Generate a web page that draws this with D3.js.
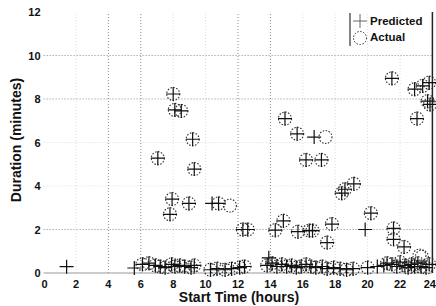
<!DOCTYPE html>
<html lang="en">
  <head>
    <meta charset="utf-8">
    <title>Predicted vs actual duration</title>
  </head>
  <style>
    body { margin: 0; background: white; }
    text { font-family: "Liberation Sans", Arial, sans-serif; font-weight: bold; }
  </style>
  <body>
    <div id="chart-area"></div>
    <script src="https://cdn.jsdelivr.net/npm/d3@7"></script>
    <script>
      // start time (hours) / duration (minutes)
      const actualTime = [8.0, 8.1, 8.5, 9.2, 7.05, 9.3, 7.93, 8.97, 7.8, 10.8, 11.5, 12.3, 12.6,
        14.3, 14.9, 14.8, 15.65, 16.2, 17.15, 17.4, 18.4, 18.6, 19.15, 20.2, 17.8, 17.5, 15.7, 16.4, 16.6,
        21.6, 21.6, 22.25, 21.5, 22.9, 23.4, 23.8, 23.7, 23.85, 23.05, 23.2, 23.35,
        6.1, 6.5, 6.9, 7.2, 7.5, 7.9, 8.1, 8.4, 8.7, 9.1, 9.3, 10.3, 10.7, 11.2, 11.6, 12.1, 12.4,
        13.8, 14.1, 14.4, 14.7, 15.0, 15.3, 15.6, 15.9, 16.2, 16.5, 16.8, 17.2, 17.5, 17.9, 18.3, 18.7,
        19.1, 20.0, 21.2, 21.5, 21.8, 22.0, 22.3, 22.5, 22.7, 22.9, 23.1, 23.3, 23.6, 23.8];
      const actualDur = [8.23, 7.5, 7.45, 6.15, 5.28, 4.78, 3.4, 3.2, 2.7, 3.2, 3.1, 2.0, 2.0,
        1.97, 7.1, 2.4, 6.4, 5.2, 5.2, 6.25, 3.67, 3.85, 4.1, 2.75, 2.25, 1.4, 1.9, 1.95, 1.95,
        2.05, 1.55, 1.2, 8.95, 8.45, 8.6, 8.75, 7.9, 7.75, 7.1, 0.8, 0.75,
        0.40, 0.45, 0.35, 0.30, 0.25, 0.40, 0.30, 0.35, 0.30, 0.25, 0.35, 0.15, 0.20, 0.15, 0.20, 0.25, 0.30,
        0.35, 0.45, 0.30, 0.40, 0.30, 0.35, 0.25, 0.30, 0.40, 0.30, 0.25, 0.30, 0.20, 0.25, 0.20, 0.15,
        0.20, 0.25, 0.45, 0.40, 0.30, 0.50, 0.35, 0.25, 0.40, 0.30, 0.45, 0.30, 0.25, 0.40];
      const predTime = [8.0, 8.1, 8.5, 9.2, 7.05, 9.3, 7.93, 8.97, 7.8, 10.4, 10.8, 12.3, 12.6,
        14.3, 14.9, 14.8, 15.65, 16.2, 17.15, 16.7, 18.4, 18.6, 19.15, 20.2, 17.8, 17.5, 15.7, 16.4, 16.6,
        21.6, 21.6, 22.25, 21.5, 22.9, 23.4, 23.8, 23.7, 23.85, 23.05, 19.85, 1.42, 5.6, 13.9, 20.6, 21.0,
        6.1, 6.5, 6.9, 7.2, 7.5, 7.9, 8.1, 8.4, 8.7, 9.1, 9.3, 10.3, 10.7, 11.2, 11.6, 12.1, 12.4,
        13.8, 14.1, 14.4, 14.7, 15.0, 15.3, 15.6, 15.9, 16.2, 16.5, 16.8, 17.2, 17.5, 17.9, 18.3, 18.7,
        19.1, 20.0, 21.2, 21.5, 21.8, 22.0, 22.3, 22.5, 22.7, 22.9, 23.1, 23.3, 23.6, 23.8];
      const predDur = [8.23, 7.5, 7.45, 6.15, 5.28, 4.78, 3.4, 3.2, 2.7, 3.2, 3.2, 2.0, 2.0,
        1.97, 7.1, 2.4, 6.4, 5.2, 5.2, 6.25, 3.67, 3.85, 4.1, 2.75, 2.25, 1.4, 1.9, 1.95, 1.95,
        2.05, 1.55, 1.2, 8.95, 8.45, 8.6, 8.75, 7.9, 7.75, 7.1, 2.0, 0.29, 0.23, 0.7, 0.3, 0.35,
        0.40, 0.45, 0.35, 0.30, 0.25, 0.40, 0.30, 0.35, 0.30, 0.25, 0.35, 0.15, 0.20, 0.15, 0.20, 0.25, 0.30,
        0.35, 0.45, 0.30, 0.40, 0.30, 0.35, 0.25, 0.30, 0.40, 0.30, 0.25, 0.30, 0.20, 0.25, 0.20, 0.15,
        0.20, 0.25, 0.45, 0.40, 0.30, 0.50, 0.35, 0.25, 0.40, 0.30, 0.45, 0.30, 0.25, 0.40];
      const xTicks = [0, 2, 4, 6, 8, 10, 12, 14, 16, 18, 20, 22, 24];
      const yTicks = [0, 2, 4, 6, 8, 10, 12];
      const darkGridX = [4, 6, 12, 14];
      const darkGridY = [2, 8, 10];
      const legendLabels = ['Predicted', 'Actual'];

      const svg_width = 436;
      const svg_height = 306;
      const margin = {left: 43.6, right: 3.6, top: 12, bottom: 33};

      const x_scale = d3.scaleLinear()
        .domain([0, 24])
        .range([margin.left, svg_width - margin.right]);
      const y_scale = d3.scaleLinear()
        .domain([0, 12])
        .range([svg_height - margin.bottom, margin.top]);

      const svg = d3.select('#chart-area')
        .append('svg')
        .attr('width', svg_width)
        .attr('height', svg_height);

      //dotted grid
      svg.selectAll('.gx')
        .data(xTicks.slice(1, -1))
        .enter()
        .append('line')
        .attr('x1', d => x_scale(d))
        .attr('x2', d => x_scale(d))
        .attr('y1', y_scale(0))
        .attr('y2', y_scale(12))
        .attr('stroke', d => darkGridX.includes(d) ? '#8a8a8a' : '#dcdcdc')
        .attr('stroke-dasharray', '1,2');
      svg.selectAll('.gy')
        .data(yTicks.slice(1, -1))
        .enter()
        .append('line')
        .attr('x1', x_scale(0))
        .attr('x2', x_scale(24))
        .attr('y1', d => y_scale(d))
        .attr('y2', d => y_scale(d))
        .attr('stroke', d => darkGridY.includes(d) ? '#8a8a8a' : '#dcdcdc')
        .attr('stroke-dasharray', '1,2');

      //axes: gray bottom line, dark right edge
      svg.append('line')
        .attr('x1', x_scale(0)).attr('x2', x_scale(24))
        .attr('y1', y_scale(0)).attr('y2', y_scale(0))
        .attr('stroke', '#999').attr('stroke-width', 1.2);
      svg.append('line')
        .attr('x1', x_scale(24)).attr('x2', x_scale(24))
        .attr('y1', y_scale(0)).attr('y2', y_scale(12))
        .attr('stroke', '#222').attr('stroke-width', 1.5);

      svg.selectAll('.xl')
        .data(xTicks)
        .enter()
        .append('text')
        .attr('x', d => d === 24 ? svg_width : x_scale(d) + (d === 0 ? 1 : 0))
        .attr('y', y_scale(0) + 15)
        .attr('text-anchor', d => d === 24 ? 'end' : 'middle')
        .attr('font-size', '11px')
        .attr('fill', '#111')
        .text(d => d);
      svg.selectAll('.yl')
        .data(yTicks)
        .enter()
        .append('text')
        .attr('x', margin.left - 3)
        .attr('y', d => y_scale(d) + 4)
        .attr('text-anchor', 'end')
        .attr('font-size', '11px')
        .attr('fill', '#111')
        .text(d => d);

      svg.append('text')
        .attr('x', 239)
        .attr('y', 302)
        .attr('text-anchor', 'middle')
        .attr('font-size', '14px')
        .attr('fill', '#111')
        .text('Start Time (hours)');
      svg.append('text')
        .attr('transform', 'translate(21,140) rotate(-90)')
        .attr('text-anchor', 'middle')
        .attr('font-size', '14px')
        .attr('fill', '#111')
        .text('Duration (minutes)');

      //markers
      const actual = d3.zip(actualTime, actualDur);
      const predicted = d3.zip(predTime, predDur);

      svg.selectAll('.act')
        .data(actual)
        .enter()
        .append('circle')
        .attr('cx', d => x_scale(d[0]))
        .attr('cy', d => y_scale(d[1]))
        .attr('r', 6.5)
        .attr('fill', 'none')
        .attr('stroke', '#333')
        .attr('stroke-width', 1.1)
        .attr('stroke-dasharray', '1.5,1.5');

      const plus = (sel, s) => sel.append('path')
        .attr('d', d => `M${x_scale(d[0]) - s},${y_scale(d[1])}h${2 * s}M${x_scale(d[0])},${y_scale(d[1]) - s}v${2 * s}`)
        .attr('stroke', '#111')
        .attr('stroke-width', 1.2)
        .attr('fill', 'none');
      plus(svg.selectAll('.pred').data(predicted).enter(), 7);

      //legend
      const lg = svg.append('g');
      lg.append('line')
        .attr('x1', 350).attr('x2', 350).attr('y1', 13).attr('y2', 46)
        .attr('stroke', '#333').attr('stroke-width', 1.2);
      lg.append('path')
        .attr('d', 'M353,21h14M360,14v14')
        .attr('stroke', '#666').attr('stroke-width', 1);
      lg.append('circle')
        .attr('cx', 360).attr('cy', 38).attr('r', 6.5)
        .attr('fill', 'none').attr('stroke', '#333')
        .attr('stroke-dasharray', '1.5,1.5');
      lg.selectAll('.lt')
        .data(legendLabels)
        .enter()
        .append('text')
        .attr('x', 370)
        .attr('y', (d, i) => 25 + i * 16)
        .attr('font-size', '11.5px')
        .attr('fill', '#111')
        .text(d => d);
    </script>
  </body>
</html>
